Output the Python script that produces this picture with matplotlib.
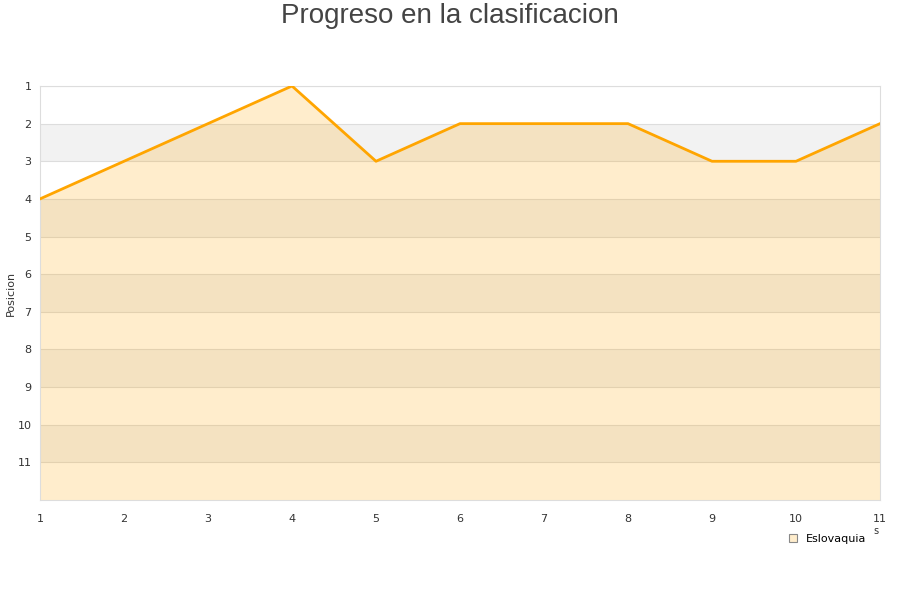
import matplotlib
matplotlib.use('Agg')
from matplotlib import pyplot as plt
from matplotlib.lines import Line2D

jornadas = [1, 2, 3, 4, 5, 6, 7, 8, 9, 10, 11]
posicion = [4, 3, 2, 1, 3, 2, 2, 2, 3, 3, 2]
equipo = 'Eslovaquia'
titulo = 'Progreso en la clasificacion'

fig = plt.figure(figsize=(9, 6), dpi=100)
ax = fig.add_axes([40 / 900, 100 / 600, 840 / 900, 414 / 600])

# bandas alternas de fondo
for k in range(2, 12, 2):
    ax.axhspan(k, k + 1, color='#f2f2f2', zorder=0, lw=0)
for k in range(1, 12):
    ax.axhline(k, color='#dddddd', lw=0.8, zorder=1)

ax.fill_between(jornadas, posicion, 12, color='#FFA500', alpha=0.2, lw=0, zorder=2)
ax.plot(jornadas, posicion, color='#FFA500', lw=2.0, zorder=3)

ax.set_xlim(1, 11)
ax.set_ylim(12, 1)
ax.set_xticks(jornadas)
ax.set_yticks(range(1, 12))
ax.tick_params(length=0, labelsize=8, colors='#333333', pad=6)
ax.tick_params(axis='x', pad=10)
for s in ax.spines.values():
    s.set_color('#dddddd')

fig.text(11 / 900, 1 - 293 / 600, 'Posicion', rotation=90, ha='center', va='center',
         fontsize=8, color='#333333')
fig.text(0.5, 1 - 16 / 600, titulo, ha='center', va='center', fontsize=20,
         color='#444444', family='Liberation Sans')
fig.text(876 / 900, 1 - 531 / 600, 's', ha='center', va='center', fontsize=7, color='#333333')

h = Line2D([], [], marker='s', ls='none', markersize=6, markerfacecolor='#FFEDCC',
           markeredgecolor='#888888', markeredgewidth=0.8)
fig.legend([h], [equipo], loc='center', bbox_to_anchor=(824 / 900, 1 - 539 / 600),
           frameon=False, fontsize=8, handletextpad=0.2)

fig.savefig('out.png')
